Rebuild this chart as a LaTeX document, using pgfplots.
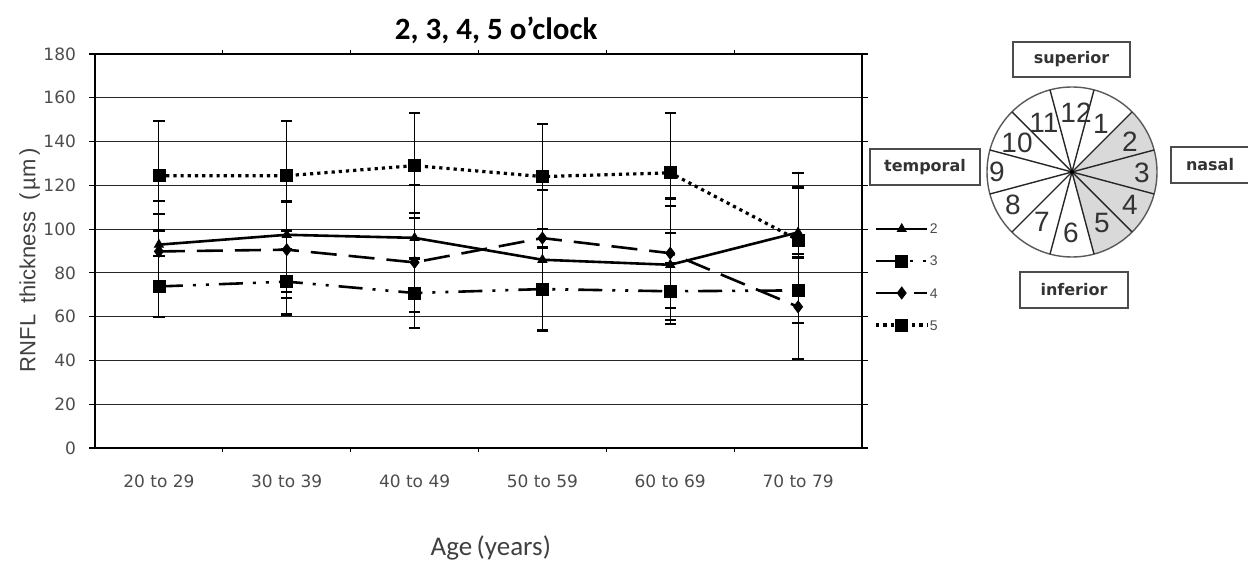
\documentclass[border=0pt]{standalone}
\usepackage{fontspec}
\setmainfont{Liberation Sans}
\newfontfamily\carlito{Carlito}
\newfontfamily\dejavu{DejaVu Sans}
\usepackage{pgfplots}
\pgfplotsset{compat=1.18}

\begin{document}
\begin{tikzpicture}
\path[use as bounding box] (0,0) rectangle (624pt,281pt);

\begin{axis}[
    at={(47.5pt,57pt)}, anchor=south west,
    width=383.5pt, height=197pt, scale only axis,
    xmin=-0.5, xmax=5.5, ymin=0, ymax=180,
    xtick={0,...,5},
    xticklabels={20 to 29,30 to 39,40 to 49,50 to 59,60 to 69,70 to 79},
    minor xtick={0.5,1.5,2.5,3.5,4.5},
    ytick={0,20,...,180},
    tick align=outside,
    x tick style={draw=none},
    minor x tick style={draw=black, line width=0.6pt},
    minor tick length=2pt,
    y tick style={black, line width=0.6pt},
    major tick length=3pt,
    ymajorgrids,
    y grid style={black!85, line width=0.6pt},
    axis line style={black, line width=0.7pt},
    /pgf/number format/assume math mode=true,
    yticklabel style={font=\dejavu\fontsize{8.5}{10}\selectfont, text=black!70, xshift=-3pt},
    xticklabel style={font=\dejavu\fontsize{8.5}{10}\selectfont, text=black!70, yshift=-7pt},
    title={\carlito\bfseries\fontsize{15.5}{18}\selectfont 2, 3, 4, 5 o’clock},
    every axis title shift=0pt,
    title style={at={(axis description cs:0.523,1.061)}, anchor=center},
    xlabel={\carlito\fontsize{13.5}{16}\selectfont Age\,(years)},
    every axis x label/.style={at={(axis description cs:0.516,-0.254)}, anchor=center, text=black!75},
    ylabel={\fontsize{11}{13}\selectfont RNFL\enspace thickness\enspace(\,µm\,)},
    every axis y label/.style={at={(axis description cs:-0.085,0.477)}, rotate=90, anchor=center, text=black!75},
    legend style={at={(axis description cs:1.008,0.434)}, anchor=west, draw=none, fill=none,
        font=\fontsize{7}{8}\selectfont, text=black!70, row sep=10pt,
        nodes={inner sep=0.5pt, text height=5pt, text depth=0pt}},
    legend cell align=left,
    legend image code/.code={
        \draw[mark repeat=2,mark phase=2,#1] plot coordinates {(0cm,0cm) (0.45cm,0cm) (0.9cm,0cm)};
    },
    error bars/y dir=both, error bars/y explicit,
    error bars/error bar style={solid, black, line width=0.5pt},
    error bars/error mark options={rotate=90, solid, black, line width=1.1pt, mark size=2.8pt},
]
% clock position 2
\addplot[black, line width=1.3pt, mark=triangle*, mark size=2.6pt, mark options={solid, fill=black, line width=0.4pt}]
    coordinates {(0,92.9) +- (0,20) (1,97.4) +- (0,26) (2,96.0) +- (0,24)
                 (3,86.0) +- (0,32) (4,83.7) +- (0,27) (5,98.5) +- (0,27)};
% clock position 3
\addplot[black, line width=1.3pt, dash pattern=on 12pt off 5pt on 1.5pt off 5pt on 1.5pt off 5pt,
         mark=square*, mark size=3pt, mark options={solid, fill=black, line width=0.4pt}]
    coordinates {(0,73.8) +- (0,14) (1,76.0) +- (0,15) (2,70.8) +- (0,15.8)
                 (3,72.6) +- (0,19) (4,71.6) +- (0,13) (5,72.0) +- (0,15)};
% clock position 4
\addplot[black, line width=1.3pt, dash pattern=on 13pt off 6pt,
         mark=diamond*, mark size=3pt, mark options={solid, fill=black, line width=0.4pt}]
    coordinates {(0,89.8) +- (0,17) (1,90.6) +- (0,22) (2,84.8) +- (0,22.5)
                 (3,95.9) +- (0,22) (4,89.0) +- (0,25) (5,64.5) +- (0,24)};
% clock position 5
\addplot[black, line width=1.6pt, dash pattern=on 1.6pt off 2pt,
         mark=square*, mark size=3pt, mark options={solid, fill=black, line width=0.4pt}]
    coordinates {(0,124.4) +- (0,25) (1,124.4) +- (0,25) (2,129.0) +- (0,24)
                 (3,124.0) +- (0,24) (4,125.7) +- (0,27.5) (5,95.0) +- (0,24)};
\legend{2,3,4,5}
\end{axis}

% clock diagram
\begin{scope}[shift={(536pt,195pt)}, x=0.5pt, y=0.5pt]
  \fill[black!15] (0,0) -- (45:85) arc[start angle=45, end angle=-75, radius=85] -- cycle;
  \draw[black!65, line width=0.7pt] (0,0) circle[radius=85];
  \foreach \a in {15,45,...,345} \draw[black!85, line width=0.7pt] (0,0) -- (\a:85);
  \fill[black] (0,0) circle[radius=2];
  \begin{scope}[every node/.style={font=\fontsize{14}{15}\selectfont, text=black!80, inner sep=0pt}]
    \node at (4,59) {12};
    \node at (29,48) {1};
    \node at (58,30) {2};
    \node at (70,-1) {3};
    \node at (58,-33) {4};
    \node at (30,-51) {5};
    \node at (-1,-61) {6};
    \node at (-30,-50) {7};
    \node at (-59,-33) {8};
    \node at (-75,0) {9};
    \node at (-55,29) {10};
    \node at (-28,49) {11};
  \end{scope}
\end{scope}

% orientation boxes
\begin{scope}[shift={(0,281pt)}, x=0.5pt, y=-0.5pt,
    every node/.style={font=\dejavu\bfseries\fontsize{8}{9}\selectfont, text=black!80}]
  \draw[black!70, line width=0.8pt] (1013,42) rectangle (1130,77);
  \node at (1071.5,59.5) {superior};
  \draw[black!70, line width=0.8pt] (870,149) rectangle (980,185);
  \node at (925,167) {temporal};
  \draw[black!70, line width=0.8pt] (1171,147) rectangle (1262,183);
  \node at (1210,165) {nasal};
  \draw[black!70, line width=0.8pt] (1020,272) rectangle (1128,308);
  \node at (1074,290) {inferior};
\end{scope}
\end{tikzpicture}
\end{document}
